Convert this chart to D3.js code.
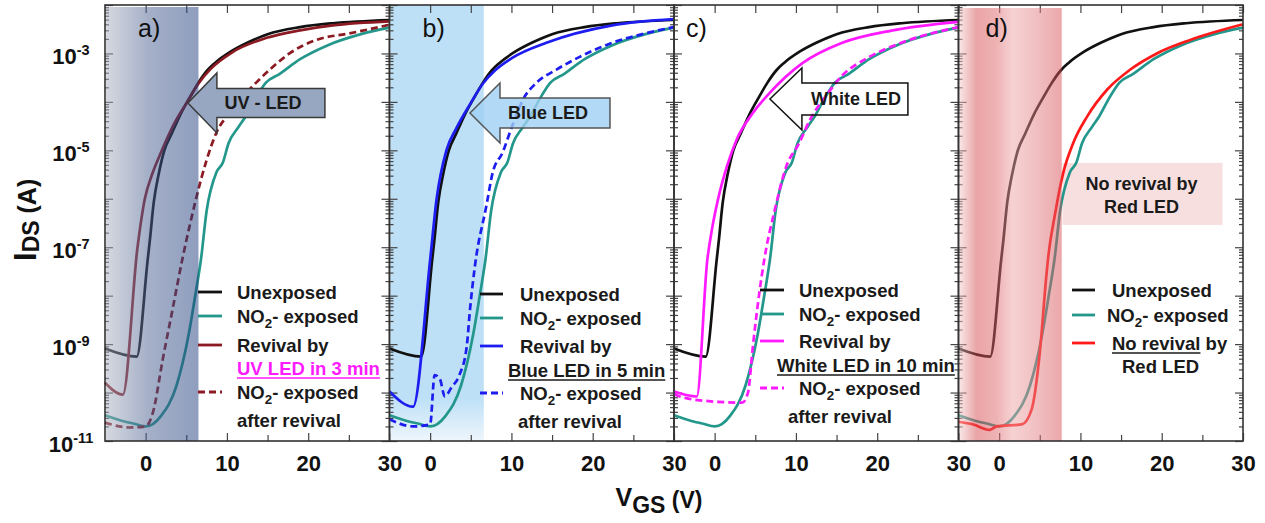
<!DOCTYPE html>
<html>
<head>
<meta charset="utf-8">
<script src="https://cdn.jsdelivr.net/npm/d3@7"></script>
<style>
  body { margin: 0; background: #fff; }
  svg text { font-family: Arial, "Liberation Sans", sans-serif; }
</style>
</head>
<body>
<svg id="chart" width="1265" height="523"></svg>
<script>
// ---- data (VGS in V, IDS in A) ----
const vgsMajor = [0, 10, 20, 30];
const vgsMinor = [5, 15, 25];
const idsLabelExps = [-11, -9, -7, -5, -3];
const panelNames = ["a)", "b)", "c)", "d)"];

const unexposed = [[-5, 8.1e-10], [-1.1, 5.5e-10], [0.25, 5.5e-8], [0.5, 1.3e-7], [1.0, 8.5e-7], [1.6, 3.2e-6],
  [2.3, 1.0e-5], [3.2, 2.2e-5], [4.3, 5.6e-5], [5.5, 1.3e-4], [6.5, 2.5e-4], [7.6, 4.5e-4], [8.5, 6.3e-4],
  [10.5, 1.1e-3], [12.5, 1.66e-3], [15, 2.5e-3], [19, 3.5e-3], [23, 4.2e-3], [30, 4.9e-3]];
const no2Exposed = [[-5, 3.4e-11], [-2.5, 2.5e-11], [-1.5, 2.3e-11], [0, 2.0e-11], [1.9, 3.3e-11], [3.8, 1.4e-10],
  [5.3, 1.6e-9], [6.2, 1.26e-8], [6.8, 5.5e-8], [7.5, 5.6e-7], [8.7, 3.5e-6], [9.5, 5.6e-6], [10.2, 1.4e-5],
  [11.4, 3.0e-5], [12.3, 5.0e-5], [13.5, 1.17e-4], [14.8, 2.5e-4], [16.5, 3.8e-4], [19, 7.6e-4], [22.5, 1.5e-3],
  [26.5, 2.5e-3], [30, 3.4e-3]];
const uvRevival = [[-5, 1.6e-10], [-2.8, 9.1e-11], [-1.0, 1.0e-7], [-0.1, 1.0e-6], [0.8, 3.2e-6], [2.0, 1.0e-5],
  [3.5, 3.5e-5], [5.2, 1.05e-4], [6.5, 2.4e-4], [8.0, 4.8e-4], [10.7, 1.07e-3], [14.9, 2.1e-3], [19, 3.0e-3],
  [23, 3.8e-3], [30, 4.6e-3]];
const uvAfter = [[-5, 2.4e-11], [-2, 1.9e-11], [0, 2.0e-11], [0.9, 3.9e-11], [2.1, 4.8e-10], [3.3, 5.1e-9],
  [4.5, 5.5e-8], [5.5, 3.2e-7], [6.2, 1.0e-6], [7.5, 6.3e-6], [8.7, 2.3e-5], [10.3, 5.9e-5], [11.9, 1.26e-4],
  [13.6, 2.5e-4], [15.6, 5.2e-4], [17.7, 1.0e-3], [21, 1.9e-3], [25.1, 2.6e-3], [30, 3.9e-3]];
const blueRevival = [[-5, 1.05e-10], [-2.1, 5.1e-11], [0, 5.5e-8], [0.8, 1.0e-6], [2.0, 1.0e-5], [3.2, 2.8e-5],
  [4.9, 8.9e-5], [6.5, 2.4e-4], [8.0, 4.5e-4], [10.1, 8.1e-4], [14.3, 1.66e-3], [22.4, 3.8e-3], [30, 5.1e-3]];
const blueAfter = [[-5, 2.8e-11], [-2.1, 2.0e-11], [0, 2.2e-11], [0.55, 2.3e-10], [1.2, 1.9e-10], [1.8, 8.3e-11],
  [2.6, 1.26e-10], [3.6, 2.3e-10], [4.5, 8.9e-10], [4.9, 5.1e-9], [5.5, 4.0e-8], [6.9, 6.9e-7], [7.7, 3.5e-6],
  [8.9, 8.9e-6], [10.1, 3.2e-5], [11.4, 1.1e-4], [13.1, 2.5e-4], [15.5, 4.6e-4], [18.4, 8.5e-4], [22.4, 1.66e-3],
  [26.5, 2.6e-3], [30, 3.5e-3]];
const whiteRevival = [[-5, 1.05e-10], [-2.2, 8.3e-11], [-0.9, 5.5e-8], [-0.3, 2.5e-7], [0.4, 9.5e-7], [1.5, 4.6e-6],
  [2.7, 1.66e-5], [4.7, 5.9e-5], [6.8, 1.55e-4], [10.8, 6.3e-4], [15.7, 1.66e-3], [21.9, 3.0e-3], [30, 4.5e-3]];
const whiteAfter = [[-5, 9.1e-11], [-2.7, 7.2e-11], [3.4, 6.2e-11], [4.1, 1.0e-10], [4.7, 8.9e-10], [5.5, 1.15e-8],
  [6.1, 5.5e-8], [7.4, 5.9e-7], [8.8, 4.6e-6], [10.4, 1.4e-5], [11.7, 4.2e-5], [13.8, 1.4e-4], [15.7, 3.5e-4],
  [18.7, 7.9e-4], [22.7, 1.6e-3], [30, 3.5e-3]];
const redNoRevival = [[-5, 2.5e-11], [-3.2, 2.2e-11], [-1.2, 1.7e-11], [-0.3, 2.0e-11], [2.8, 2.2e-11], [4.0, 4.5e-11],
  [5.0, 6.6e-10], [5.8, 2.5e-8], [6.0, 5.5e-8], [6.9, 5.1e-7], [7.9, 3.5e-6], [9.1, 1.4e-5], [10.8, 4.9e-5],
  [13.3, 1.8e-4], [16.1, 4.6e-4], [19.4, 1.0e-3], [23.5, 1.9e-3], [30, 4.0e-3]];

// light exposure window (VGS end of shaded band) per panel
const shadeEnd = [6.5, 6.6, null, 7.7];

// ---- layout ----
const C = { black: "#111", teal: "#23978b", dred: "#8b1a22", blue: "#1d1df0", mag: "#ff1aff", red: "#ff1a1a" };
const panelLeft = [105, 389.5, 674, 958.5], panelW = 284.5, yTop = 5, yBottom = 441;
const svg = d3.select("#chart");
const defs = svg.append("defs");
const y = d3.scaleLog().domain([1e-11, 1e-2]).range([yBottom, yTop]);
const line = x => d3.line().x(d => x(d[0])).y(d => y(d[1])).curve(d3.curveMonotoneX);

function grad(id, stops, vertical) {
  const g = defs.append("linearGradient").attr("id", id)
    .attr("x1", 0).attr("y1", 0).attr("x2", vertical ? 0 : 1).attr("y2", vertical ? 1 : 0);
  stops.forEach(s => g.append("stop").attr("offset", s[0]).attr("stop-color", s[1]));
}
grad("gUV", [[0, "#abb1bf"], [0.45, "#4b6191"], [1, "#1f3d7d"]]);
grad("gBlue", [[0, "#bde0f7"], [0.9, "#bde0f7"], [1, "#eef6fc"]], true);
grad("gRed", [[0, "#f1cdcd"], [0.17, "#d5494f"], [0.36, "#dd6569"], [0.52, "#eda5a7"], [0.79, "#e1797d"], [1, "#d74f55"]]);

function rich(textSel, segs) {
  segs.forEach((s, i) => {
    const t = textSel.append("tspan").text(s[0]);
    if (s[1] === "sub") t.attr("dy", 5).attr("font-size", "0.72em");
    else if (i > 0 && segs[i - 1][1] === "sub") t.attr("dy", -5);
  });
}

const NO2 = [["NO"], ["2", "sub"], ["- exposed"]];
const panels = [
  {
    series: [[unexposed, C.black], [no2Exposed, C.teal], [uvRevival, C.dred], [uvAfter, C.dred, "7,4"]],
    shade: { fill: "url(#gUV)", over: true, y0: 7 },
    arrow: { tip: [5.2, 9.5e-5], head: 29, hh: 30, bh: 14.5, len: 108, fill: "#97a6c1", stroke: "#3a3a3a", text: "UV - LED", tx: 75 },
    legend: { lx: [198, 222], rows: [
      { segs: [["Unexposed"]], x: 237, b: 299, c: C.black },
      { segs: NO2, x: 237, b: 323, c: C.teal },
      { segs: [["Revival by"]], x: 237, b: 352, c: C.dred },
      { segs: [["UV LED in 3 min"]], x: 237, b: 375, fill: C.mag, ul: 15 },
      { segs: NO2, x: 237, b: 399, c: C.dred, dash: "7,4" },
      { segs: [["after revival"]], x: 237, b: 427 }
    ] }
  },
  {
    series: [[unexposed, C.black], [no2Exposed, C.teal], [blueAfter, C.blue, "7,4"], [blueRevival, C.blue]],
    shade: { fill: "url(#gBlue)", over: false, y0: 5 },
    arrow: { tip: [4.9, 5.9e-5], head: 30, hh: 30, bh: 15, len: 110, fill: "#9fd0f2", op: 0.8, stroke: "#555", text: "Blue LED", tx: 78 },
    legend: { lx: [480, 503], rows: [
      { segs: [["Unexposed"]], x: 520, b: 301, c: C.black },
      { segs: NO2, x: 520, b: 325, c: C.teal },
      { segs: [["Revival by"]], x: 520, b: 353, c: C.blue },
      { segs: [["Blue LED in 5 min"]], x: 508, b: 377, ul: 17 },
      { segs: NO2, x: 520, b: 400, c: C.blue, dash: "7,4" },
      { segs: [["after revival"]], x: 518, b: 428 }
    ] }
  },
  {
    series: [[unexposed, C.black], [no2Exposed, C.teal], [whiteAfter, C.mag, "7,4"], [whiteRevival, C.mag]],
    arrow: { tip: [6.8, 1.15e-4], head: 32, hh: 31, bh: 16, len: 106, fill: "none", stroke: "#111", text: "White LED", tx: 86 },
    legend: { lx: [760, 784], rows: [
      { segs: [["Unexposed"]], x: 799, b: 297, c: C.black },
      { segs: NO2, x: 799, b: 321, c: C.teal },
      { segs: [["Revival by"]], x: 799, b: 348, c: C.mag },
      { segs: [["White LED in 10 min"]], x: 777, b: 372, ul: 19 },
      { segs: NO2, x: 799, b: 395, c: C.mag, dash: "7,4" },
      { segs: [["after revival"]], x: 788, b: 423 }
    ] }
  },
  {
    series: [[unexposed, C.black], [no2Exposed, C.teal], [redNoRevival, C.red]],
    shade: { fill: "url(#gRed)", over: true, y0: 8 },
    box: { at: [7.8, 5.5e-6], w: 160, h: 62, lines: ["No revival by", "Red LED"] },
    legend: { lx: [1072, 1095], rows: [
      { segs: [["Unexposed"]], x: 1112, b: 297, c: C.black },
      { segs: NO2, x: 1107, b: 322, c: C.teal },
      { segs: [["No revival"], [" by"]], x: 1112, b: 350, c: C.red, ul: 10 },
      { segs: [["Red LED"]], x: 1122, b: 373 }
    ] }
  }
];

panels.forEach((p, i) => {
  const x0 = panelLeft[i], x1 = x0 + panelW;
  const x = d3.scaleLinear().domain([-5, 30]).range([x0, x1]);
  const g = svg.append("g");

  const drawShade = () => {
    if (!p.shade) return;
    g.append("rect").attr("x", x0 + 1).attr("y", p.shade.y0)
      .attr("width", x(shadeEnd[i]) - x0 - 1).attr("height", yBottom - p.shade.y0)
      .attr("fill", p.shade.fill).attr("opacity", p.shade.over ? 0.5 : 1);
  };

  if (p.shade && !p.shade.over) drawShade();

  // ticks (inward on all four sides)
  const tk = (axis, tr, size, vals) => g.append("g").attr("transform", tr)
    .call(axis.tickValues(vals).tickSize(-size).tickFormat(""))
    .call(a => a.select(".domain").remove())
    .call(a => a.selectAll("line").attr("stroke", "#444").attr("stroke-width", 1.2));
  const decades = d3.range(-11, -1).map(e => Math.pow(10, e));
  const minors = [];
  d3.range(-11, -2).forEach(e => d3.range(2, 10).forEach(m => minors.push(m * Math.pow(10, e))));
  tk(d3.axisBottom(x), `translate(0,${yBottom})`, 8, vgsMajor);
  tk(d3.axisBottom(x), `translate(0,${yBottom})`, 6, vgsMinor);
  tk(d3.axisTop(x), `translate(0,${yTop})`, 8, vgsMajor.concat(vgsMinor));
  tk(d3.axisLeft(y), `translate(${x0},0)`, 8, decades);
  tk(d3.axisLeft(y), `translate(${x0},0)`, 4, minors);
  tk(d3.axisRight(y), `translate(${x1},0)`, 8, decades);
  tk(d3.axisRight(y), `translate(${x1},0)`, 4, minors);

  // red callout box sits behind the curves
  if (p.box) {
    const bx = x(p.box.at[0]), by = y(p.box.at[1]);
    g.append("rect").attr("x", bx).attr("y", by).attr("width", p.box.w).attr("height", p.box.h)
      .attr("fill", "#f7dcdc").attr("opacity", 0.9);
    p.box.lines.forEach((t, k) => g.append("text").attr("x", bx + p.box.w / 2 - 1).attr("y", by + 27 + k * 23)
      .attr("text-anchor", "middle").attr("font-size", 18).attr("font-weight", "bold").attr("fill", "#1a1a1a").text(t));
  }

  // curves
  p.series.forEach(s => g.append("path").datum(s[0]).attr("d", line(x)).attr("fill", "none")
    .attr("stroke", s[1]).attr("stroke-width", 2.7).attr("stroke-dasharray", s[2] || null)
    .attr("stroke-linejoin", "round"));

  if (p.shade && p.shade.over) drawShade();

  // arrow callout
  if (p.arrow) {
    const a = p.arrow, tx = x(a.tip[0]), ty = y(a.tip[1]), hx = tx + a.head;
    const pts = [[tx, ty], [hx, ty - a.hh], [hx, ty - a.bh], [hx + a.len, ty - a.bh], [hx + a.len, ty + a.bh],
      [hx, ty + a.bh], [hx, ty + a.hh]];
    g.append("path").attr("d", "M" + pts.join("L") + "Z").attr("fill", a.fill).attr("fill-opacity", a.op || 1)
      .attr("stroke", a.stroke).attr("stroke-width", 1.5);
    g.append("text").attr("x", tx + a.tx).attr("y", ty + 6.5).attr("text-anchor", "middle")
      .attr("font-size", 18).attr("font-weight", "bold").attr("fill", "#1a1a1a").text(a.text);
  }

  // legend
  p.legend.rows.forEach(r => {
    if (r.c) g.append("line").attr("x1", p.legend.lx[0]).attr("x2", p.legend.lx[1])
      .attr("y1", r.b - 7).attr("y2", r.b - 7).attr("stroke", r.c).attr("stroke-width", 2.8)
      .attr("stroke-dasharray", r.dash || null);
    const t = g.append("text").attr("x", r.x).attr("y", r.b).attr("font-size", 18.5)
      .attr("font-weight", "bold").attr("fill", r.fill || "#1a1a1a");
    rich(t, r.segs);
    if (r.ul) {
      const w = t.node().getSubStringLength(0, r.ul);
      g.append("line").attr("x1", r.x).attr("x2", r.x + w).attr("y1", r.b + 3).attr("y2", r.b + 3)
        .attr("stroke", r.fill || "#1a1a1a").attr("stroke-width", 1.6);
    }
  });

  // frame
  g.append("rect").attr("x", x0).attr("y", yTop).attr("width", panelW).attr("height", yBottom - yTop)
    .attr("fill", "none").attr("stroke", "#333").attr("stroke-width", 1.6);

  // x tick labels
  g.append("g").attr("transform", `translate(0,${yBottom})`)
    .call(d3.axisBottom(x).tickValues(vgsMajor).tickSize(0).tickPadding(14))
    .call(a => a.select(".domain").remove())
    .selectAll("text").attr("font-size", 22).attr("font-weight", "bold").attr("fill", "#111")
    .attr("font-family", "Arial, 'Liberation Sans', sans-serif");

  // panel label
  g.append("text").attr("x", x(-5) + (i === 3 ? 27 : i === 2 ? 12 : 33)).attr("y", 37)
    .attr("font-size", 25).attr("fill", "#111").text(panelNames[i]);
});

// y tick labels with superscript exponents
const yl = svg.append("g");
idsLabelExps.forEach(e => {
  const t = yl.append("text").attr("x", 71).attr("y", y(Math.pow(10, e)) + 11).attr("text-anchor", "middle")
    .attr("font-size", 22).attr("font-weight", "bold").attr("fill", "#111");
  t.append("tspan").text("10");
  t.append("tspan").attr("dy", -9).attr("font-size", 14.5).text(e);
});

// axis titles
const yt = svg.append("text").attr("transform", "translate(36,220) rotate(-90)").attr("text-anchor", "middle")
  .attr("font-weight", "bold").attr("fill", "#111");
yt.append("tspan").attr("font-size", 32).text("I");
yt.append("tspan").attr("font-size", 23).attr("dy", 3).text("DS");
yt.append("tspan").attr("font-size", 25).attr("dy", -3).text(" (A)");

const xt = svg.append("text").attr("x", 659).attr("y", 506).attr("text-anchor", "middle")
  .attr("font-weight", "bold").attr("fill", "#111");
xt.append("tspan").attr("font-size", 25).text("V");
xt.append("tspan").attr("font-size", 23).attr("dy", 7).text("GS");
xt.append("tspan").attr("font-size", 23).attr("dy", -5).text(" (V)");
</script>
</body>
</html>
